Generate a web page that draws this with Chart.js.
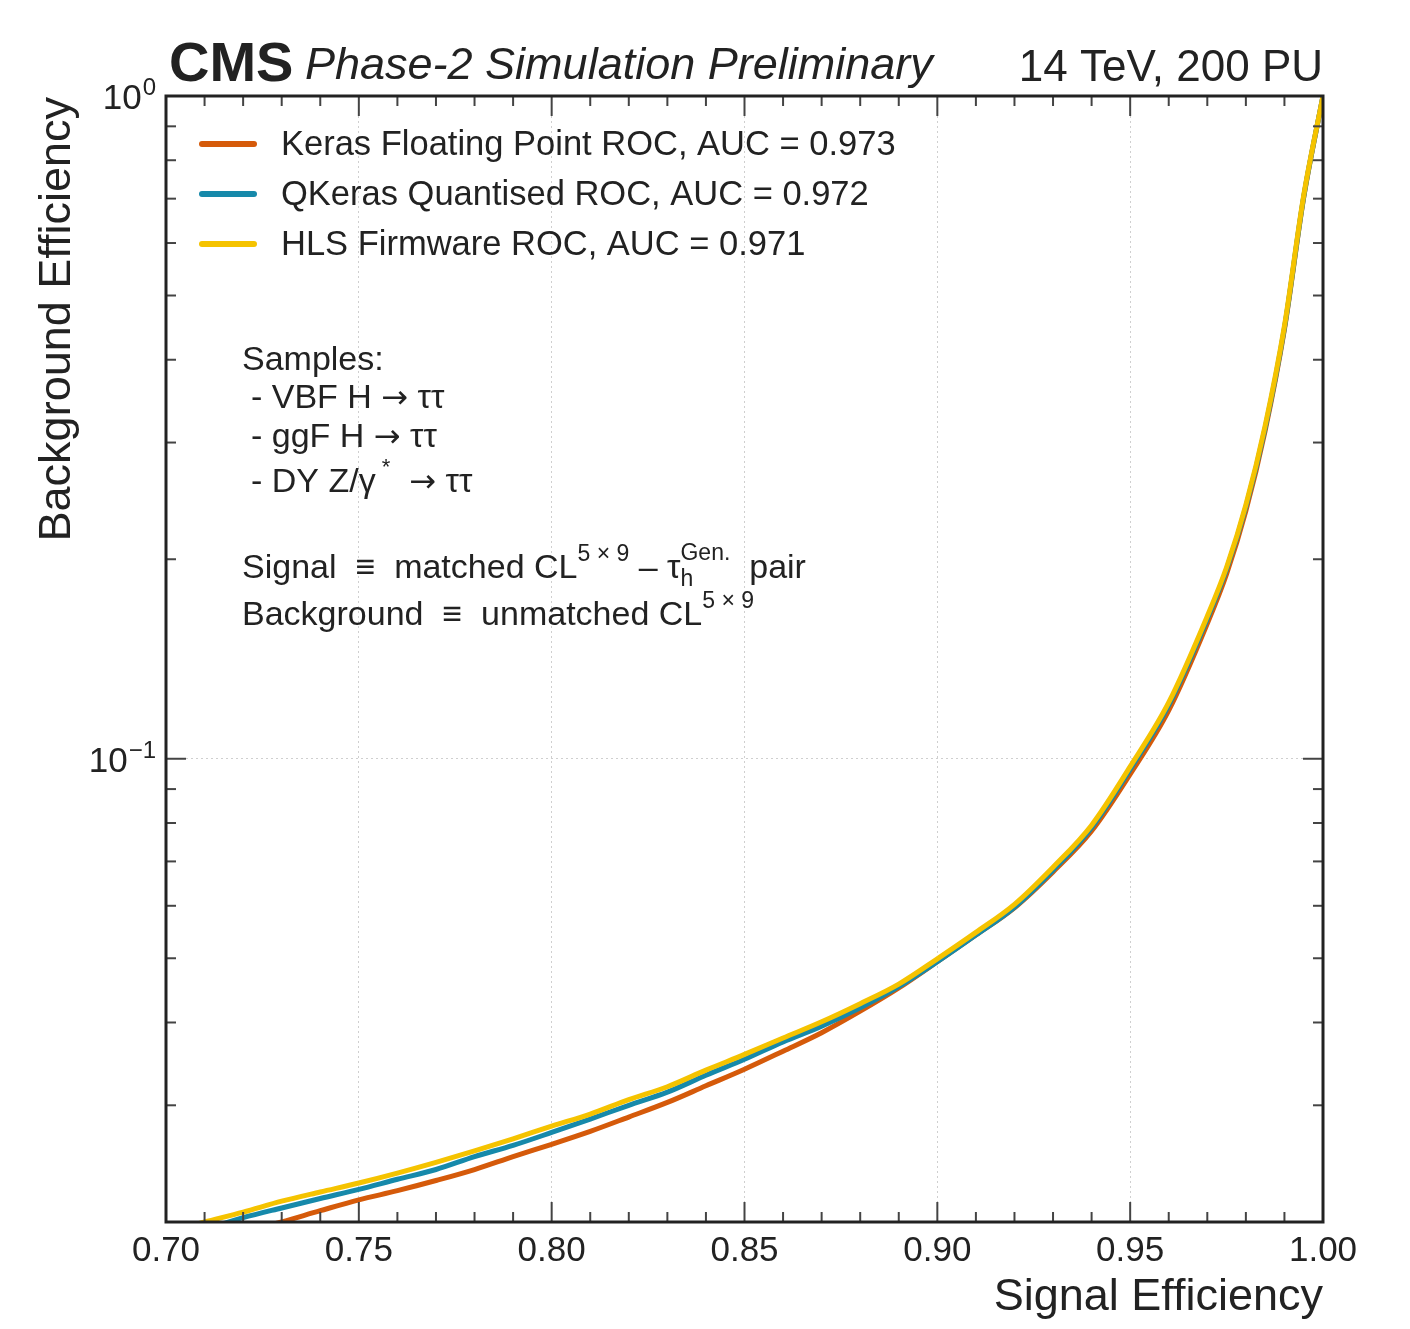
<!DOCTYPE html>
<html>
<head>
<meta charset="utf-8">
<title>ROC curves - Phase-2 tau ID</title>
<script src="https://cdn.jsdelivr.net/npm/chart.js@4.4.1/dist/chart.umd.min.js"></script>
<style>
  body { margin: 0; background: #fff; }
  #wrap { width: 1410px; height: 1329px; position: relative; }
</style>
</head>
<body>
<div id="wrap"><canvas id="rocChart"></canvas></div>
<script>
const signalEff = [0.70, 0.71, 0.72, 0.73, 0.74, 0.75, 0.76, 0.77, 0.78, 0.79, 0.80, 0.81, 0.82, 0.83, 0.84, 0.85, 0.86, 0.87, 0.88, 0.89, 0.90, 0.91, 0.92, 0.93, 0.94, 0.95, 0.96, 0.97, 0.975, 0.98, 0.985, 0.99, 0.995, 1.00];

// background efficiency per model
const kerasBkg  = [0.0179, 0.0185, 0.0193, 0.0200, 0.0208, 0.0216, 0.0223, 0.0231, 0.0240, 0.0251, 0.0262, 0.0274, 0.0288, 0.0303, 0.0321, 0.0340, 0.0362, 0.0386, 0.0416, 0.0451, 0.0494, 0.0542, 0.0596, 0.0675, 0.0778, 0.0948, 0.1183, 0.1600, 0.1901, 0.2366, 0.3126, 0.4446, 0.7031, 1.0];
const qkerasBkg = [0.0189, 0.0195, 0.0203, 0.0210, 0.0217, 0.0224, 0.0232, 0.0240, 0.0251, 0.0261, 0.0273, 0.0286, 0.0300, 0.0314, 0.0333, 0.0352, 0.0374, 0.0395, 0.0421, 0.0453, 0.0494, 0.0542, 0.0597, 0.0679, 0.0787, 0.0964, 0.1205, 0.1626, 0.1932, 0.2399, 0.3155, 0.4467, 0.7047, 1.0];
const hlsBkg    = [0.0193, 0.0200, 0.0207, 0.0215, 0.0222, 0.0229, 0.0237, 0.0246, 0.0256, 0.0267, 0.0279, 0.0291, 0.0306, 0.0320, 0.0339, 0.0358, 0.0379, 0.0401, 0.0427, 0.0457, 0.0499, 0.0547, 0.0603, 0.0686, 0.0794, 0.0973, 0.1216, 0.1641, 0.1945, 0.2415, 0.3180, 0.4498, 0.7080, 1.0];

const seriesNames = ['Keras Floating Point ROC, AUC = 0.973', 'QKeras Quantised ROC, AUC = 0.972', 'HLS Firmware ROC, AUC = 0.971'];

const xMajor = [0.70, 0.75, 0.80, 0.85, 0.90, 0.95, 1.00];
const yMajor = [0.1, 1];
const yMinor = [0.02, 0.03, 0.04, 0.05, 0.06, 0.07, 0.08, 0.09, 0.2, 0.3, 0.4, 0.5, 0.6, 0.7, 0.8, 0.9];

const FONT = '"Liberation Sans", Arial, Helvetica, sans-serif';
const SYM = '"DejaVu Sans", sans-serif';
const INK = '#222';

function toPoints(ys) {
    return signalEff.map((x, i) => ({ x: x, y: ys[i] }));
}

// draw a row of text pieces (for super/subscripts)
function drawRuns(ctx, x, y, runs) {
    runs.forEach(r => {
        ctx.font = (r.size || 34) + 'px ' + (r.family || FONT);
        ctx.fillText(r.t, x, y + (r.dy || 0));
        if (!r.stack) x += ctx.measureText(r.t).width;
    });
}

function line(ctx, x1, y1, x2, y2) {
    ctx.beginPath();
    ctx.moveTo(x1, y1);
    ctx.lineTo(x2, y2);
    ctx.stroke();
}

const decorPlugin = {
    id: 'cmsDecor',
    afterDraw(chart) {
        const ctx = chart.ctx;
        const a = chart.chartArea;
        const xs = chart.scales.x;
        const ys = chart.scales.y;
        ctx.save();

        // inward ticks on all four sides
        ctx.strokeStyle = '#444';
        ctx.lineWidth = 2;
        for (let i = 70; i <= 100; i++) {
            const px = xs.getPixelForValue(i / 100);
            const len = i % 5 === 0 ? 20 : 10;
            line(ctx, px, a.bottom, px, a.bottom - len);
            line(ctx, px, a.top, px, a.top + len);
        }
        yMinor.forEach(v => {
            const py = ys.getPixelForValue(v);
            line(ctx, a.left, py, a.left + 10, py);
            line(ctx, a.right, py, a.right - 10, py);
        });
        yMajor.forEach(v => {
            const py = ys.getPixelForValue(v);
            line(ctx, a.left, py, a.left + 20, py);
            line(ctx, a.right, py, a.right - 20, py);
        });

        // frame
        ctx.strokeStyle = INK;
        ctx.lineWidth = 3;
        ctx.strokeRect(a.left, a.top, a.right - a.left, a.bottom - a.top);

        ctx.fillStyle = INK;
        ctx.textBaseline = 'alphabetic';

        // y tick labels 10^n
        ctx.textAlign = 'left';
        yMajor.forEach(v => {
            const py = ys.getPixelForValue(v);
            const exp = String(Math.round(Math.log10(v))).replace('-', '\u2212');
            ctx.font = '24px ' + FONT;
            const supW = ctx.measureText(exp).width;
            ctx.font = '35px ' + FONT;
            const baseW = ctx.measureText('10').width;
            const x0 = a.left - 10 - supW - 1 - baseW;
            ctx.fillText('10', x0, py + 13);
            ctx.font = '24px ' + FONT;
            ctx.fillText(exp, x0 + baseW + 1, py - 1);
        });

        // axis titles
        ctx.font = '45px ' + FONT;
        ctx.textAlign = 'right';
        ctx.fillText('Signal Efficiency', a.right, 1310);
        ctx.save();
        ctx.translate(70, a.top + 1);
        ctx.rotate(-Math.PI / 2);
        ctx.fillText('Background Efficiency', 0, 0);
        ctx.restore();

        // header
        ctx.textAlign = 'left';
        ctx.font = 'bold 56px ' + FONT;
        ctx.fillText('CMS', 169, 81);
        ctx.font = 'italic 45px ' + FONT;
        ctx.fillText('Phase-2 Simulation Preliminary', 305, 79);
        ctx.textAlign = 'right';
        ctx.font = '44px ' + FONT;
        ctx.fillText('14 TeV, 200 PU', a.right, 81);

        // legend inside the frame
        ctx.textAlign = 'left';
        ctx.textBaseline = 'middle';
        chart.data.datasets.forEach((ds, i) => {
            const ly = 144 + i * 50;
            ctx.strokeStyle = ds.borderColor;
            ctx.lineWidth = 6;
            ctx.lineCap = 'round';
            line(ctx, 202, ly, 254, ly);
            ctx.fillStyle = INK;
            ctx.font = '34.5px ' + FONT;
            ctx.fillText(ds.label, 281, ly + 1);
        });

        // sample / definition notes
        ctx.textBaseline = 'alphabetic';
        ctx.fillStyle = INK;
        const arrow = { t: '\u2192', family: SYM, size: 32 };
        drawRuns(ctx, 242, 370, [{ t: 'Samples:' }]);
        drawRuns(ctx, 251, 408, [{ t: '- VBF H ' }, arrow, { t: ' \u03c4\u03c4' }]);
        drawRuns(ctx, 251, 447, [{ t: '- ggF H ' }, arrow, { t: ' \u03c4\u03c4' }]);
        drawRuns(ctx, 251, 492, [
            { t: '- DY Z/\u03b3' },
            { t: ' *', size: 22, dy: -18 },
            { t: '  ' }, arrow, { t: ' \u03c4\u03c4' }
        ]);
        drawRuns(ctx, 242, 578, [
            { t: 'Signal  \u2261  matched CL' },
            { t: '5 \u00d7 9', size: 23, dy: -17 },
            { t: ' \u2013 \u03c4' },
            { t: 'h', size: 23, dy: 8, stack: true },
            { t: 'Gen.', size: 23, dy: -18 },
            { t: '  pair' }
        ]);
        drawRuns(ctx, 242, 625, [
            { t: 'Background  \u2261  unmatched CL' },
            { t: '5 \u00d7 9', size: 23, dy: -17 }
        ]);

        ctx.restore();
    }
};

const chartData = {
    datasets: [
        {
            label: seriesNames[0],
            data: toPoints(kerasBkg),
            borderColor: '#d55a0a',
            borderWidth: 5,
            order: 3
        },
        {
            label: seriesNames[1],
            data: toPoints(qkerasBkg),
            borderColor: '#1689aa',
            borderWidth: 5,
            order: 2
        },
        {
            label: seriesNames[2],
            data: toPoints(hlsBkg),
            borderColor: '#f5c300',
            borderWidth: 5,
            order: 1
        }
    ]
};

const chartOptions = {
    responsive: true,
    maintainAspectRatio: false,
    animation: false,
    layout: { padding: { top: 96, right: 87, left: 0, bottom: 0 } },
    elements: {
        point: { radius: 0 },
        line: { cubicInterpolationMode: 'monotone', borderCapStyle: 'round' }
    },
    plugins: {
        legend: { display: false },
        tooltip: { enabled: false }
    },
    scales: {
        x: {
            type: 'linear',
            min: 0.70,
            max: 1.00,
            afterFit: scale => { scale.height = 107; },
            afterBuildTicks: scale => { scale.ticks = xMajor.map(v => ({ value: v })); },
            ticks: {
                color: INK,
                padding: 8,
                font: { family: FONT, size: 35 },
                maxRotation: 0,
                callback: v => Number(v).toFixed(2)
            },
            grid: { drawTicks: false, color: '#cfcfcf', lineWidth: 1 },
            border: { display: false, dash: [2, 3] }
        },
        y: {
            type: 'logarithmic',
            min: 0.02,
            max: 1,
            afterFit: scale => { scale.width = 166; },
            ticks: { display: false },
            grid: {
                drawTicks: false,
                lineWidth: 1,
                color: c => (c.tick && Math.abs(c.tick.value - 0.1) < 1e-9) ? '#cfcfcf' : 'rgba(0,0,0,0)'
            },
            border: { display: false, dash: [2, 3] }
        }
    }
};

new Chart(document.getElementById('rocChart').getContext('2d'), {
    type: 'line',
    data: chartData,
    options: chartOptions,
    plugins: [decorPlugin]
});
</script>
</body>
</html>
